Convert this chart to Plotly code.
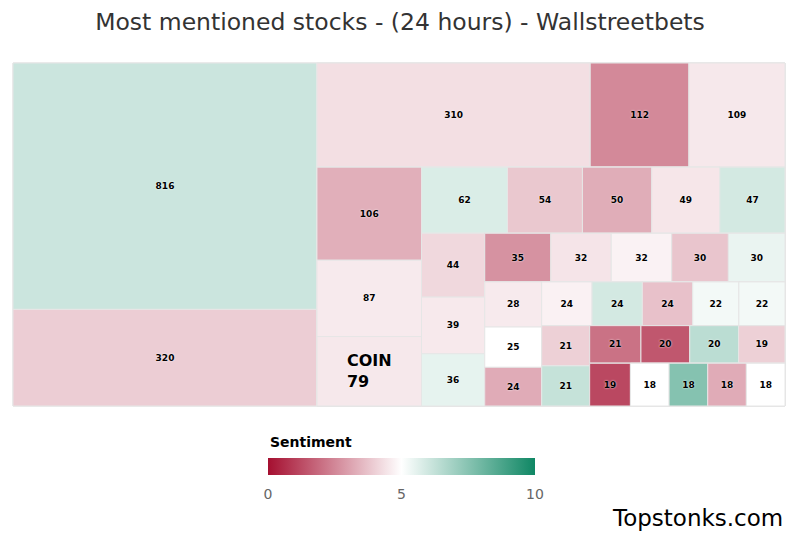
import plotly.graph_objects as go

# ---------------- data ----------------
mentions = [816, 320, 310, 112, 109, 106, 87, 79, 62, 54, 50, 49, 47, 44, 39, 36,
            35, 32, 32, 30, 30, 28, 25, 24, 24, 24, 24, 22, 22, 21, 21, 21, 20, 20,
            19, 19, 18, 18, 18, 18]
sentiment = [6.08, 3.96, 4.33, 2.54, 4.52, 3.33, 4.56, 4.52, 5.77, 3.85, 3.29, 4.48,
             5.92, 4.19, 4.54, 5.52, 2.73, 4.44, 4.73, 3.79, 5.44, 4.56, 5.0, 3.25,
             4.71, 5.92, 3.71, 5.25, 5.25, 4.02, 6.21, 2.06, 1.5, 6.42, 4.02, 1.19,
             5.0, 7.54, 3.25, 5.0]
tickers = [""] * len(mentions)
tickers[7] = "COIN"

title_text = "Most mentioned stocks - (24 hours) - Wallstreetbets"
colorbar_title = "Sentiment"
colorbar_ticks = [0, 5, 10]
credit = "Topstonks.com"

colorscale = [[0.0, "#a50f30"], [0.5, "#ffffff"], [1.0, "#0f8764"]]

# ---------------- layout geometry ----------------
W, H = 800, 533
M_L, M_R, M_T, M_B = 13, 15, 63, 127
PW, PH = W - M_L - M_R, H - M_T - M_B


# Highcharts "squarified" strip algorithm -> groups of consecutive items
class _Group:
    def __init__(self, h, w, d):
        self.height, self.width, self.direction = h, w, d
        self.total = 0.0
        self.nW = self.lW = self.nH = self.lH = 0.0
        self.el = []
        self.nR = self.lR = float("nan")

    def add(self, item):
        last = self.el[-1][1] if self.el else None
        self.total += item[1]
        if self.direction == 0:
            self.lW = self.nW
            self.nW = self.total / self.height
            if last is None:
                self.lR = self.nR = float("nan")
            else:
                lh = last / self.lW
                self.lR = max(self.lW / lh, lh / self.lW)
                nh = last / self.nW
                self.nR = max(self.nW / nh, nh / self.nW)
        else:
            self.lH = self.nH
            self.nH = self.total / self.width
            if last is None:
                self.lR = self.nR = float("nan")
            else:
                lw = last / self.lH
                self.lR = max(lw / self.lH, self.lH / lw)
                nw = last / self.nH
                self.nR = max(nw / self.nH, self.nH / nw)
        self.el.append(item)

    def reset(self):
        self.nW = self.lW = 0.0
        self.el = []
        self.total = 0.0


def strip_groups(vals, width, height):
    tot = float(sum(vals))
    items = [(i, v / tot * width * height) for i, v in enumerate(vals)]
    g = _Group(height, width, 0)
    out = []

    def calc(last):
        if last:
            gw, gh, placed, keep = g.nW, g.nH, list(g.el), None
        else:
            gw, gh, placed, keep = g.lW, g.lH, g.el[:-1], g.el[-1]
        out.append([i for i, _ in placed])
        g.reset()
        if g.direction == 0:
            g.width -= gw
        else:
            g.height -= gh
        g.direction = 1 - g.direction
        if keep is not None:
            g.add(keep)

    end = len(items) - 1
    for k, it in enumerate(items):
        g.add(it)
        if g.nR > g.lR:
            calc(False)
        if k == end:
            calc(True)
    return out


groups = strip_groups(mentions, PW, PH)

# ---------------- hierarchy for plotly treemap ----------------
NB = "\u00a0"
ids, parents, vals, cols, texts, tsize = ["root"], [""], [0], [5], [""], [9]
container = "root"
for k, idxs in enumerate(groups):
    gid = f"g{k}"
    ids.append(gid); parents.append(container); vals.append(0)
    cols.append(5); texts.append(""); tsize.append(9)
    for i in idxs:
        ids.append(f"s{i}")
        parents.append(gid)
        vals.append(mentions[i])
        cols.append(sentiment[i])
        if tickers[i]:
            texts.append(f"<b>{tickers[i]}<br>{mentions[i]}{NB * 4}</b>")
            tsize.append(16)
        else:
            texts.append(f"<b>{mentions[i]}</b>")
            tsize.append(9)
    if k < len(groups) - 1:
        rid = f"r{k}"
        ids.append(rid); parents.append(container); vals.append(0)
        cols.append(5); texts.append(""); tsize.append(9)
        container = rid

fig = go.Figure(go.Treemap(
    ids=ids, labels=ids, parents=parents, values=vals,
    branchvalues="remainder", sort=False,
    text=texts, textinfo="text", textposition="middle center",
    textfont=dict(family="DejaVu Sans", size=tsize, color="#000000",
                  shadow="0px 0px 2px #ffffff"),
    tiling=dict(packing="slice-dice", pad=0),
    pathbar=dict(visible=False),
    marker=dict(
        colors=cols, colorscale=colorscale, cmin=0, cmax=10,
        depthfade=False,
        line=dict(color="#e6e6e6", width=1),
        pad=dict(t=0, l=0, r=0, b=0),
        showscale=True,
        colorbar=dict(
            orientation="h",
            x=(401.5 - M_L) / PW, xanchor="center",
            y=(PH - (458 - M_T)) / PH, yanchor="top",
            len=267, lenmode="pixels", thickness=17,
            tickvals=colorbar_ticks, ticks="outside", ticklen=8,
            tickcolor="rgba(0,0,0,0)",
            tickfont=dict(family="DejaVu Sans", size=14, color="#666666"),
            outlinewidth=0, xpad=0, ypad=0,
        ),
    ),
    hoverinfo="skip",
))

fig.update_layout(
    width=W, height=H,
    margin=dict(l=M_L, r=M_R, t=M_T, b=M_B),
    paper_bgcolor="#ffffff",
    title=dict(text=title_text, x=0.5, xanchor="center",
               y=1 - 22 / H, yanchor="middle",
               font=dict(family="DejaVu Sans", size=23.5, color="#333333")),
    annotations=[
        dict(text=f"<b>{colorbar_title}</b>", xref="paper", yref="paper",
             x=(268 - M_L) / PW, xanchor="left",
             y=(PH - (441.5 - M_T)) / PH, yanchor="middle", showarrow=False,
             font=dict(family="DejaVu Sans", size=14, color="#000000")),
        dict(text=credit, xref="paper", yref="paper",
             x=(785 - M_L) / PW, xanchor="right", y=(PH - (518 - M_T)) / PH,
             yanchor="middle", showarrow=False,
             font=dict(family="DejaVu Sans", size=23, color="#000000")),
    ],
)

fig.write_html("out.html", config={"displayModeBar": False},
               post_script="document.body.style.margin='0px';")
